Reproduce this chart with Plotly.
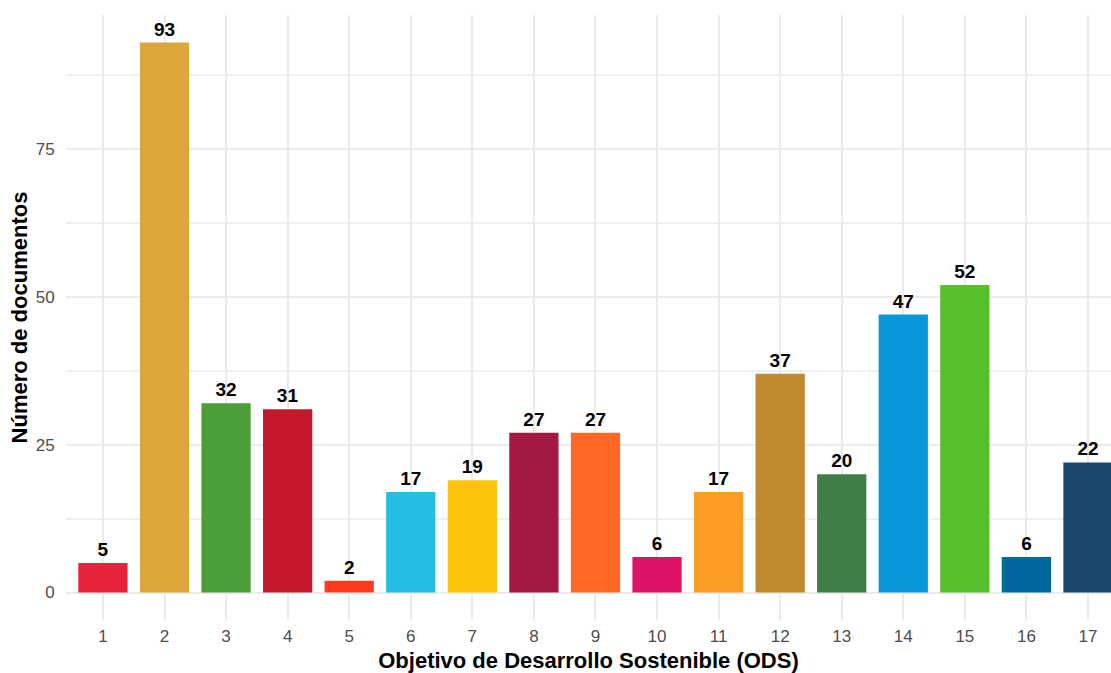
import plotly.graph_objects as go

ods = list(range(1, 18))
documentos = [5, 93, 32, 31, 2, 17, 19, 27, 27, 6, 17, 37, 20, 47, 52, 6, 22]
colores = ["#E5243B", "#DDA63A", "#4C9F38", "#C5192D", "#FF3A21", "#26BDE2",
           "#FCC30B", "#A21942", "#FD6925", "#DD1367", "#FD9D24", "#BF8B2E",
           "#3F7E44", "#0A97D9", "#56C02B", "#00689D", "#19486A"]
y_ticks = [0, 25, 50, 75]
y_minor = [12.5, 37.5, 62.5, 87.5]

font_family = "Liberation Sans, Arial, sans-serif"

fig = go.Figure(go.Bar(
    x=ods, y=documentos, marker=dict(color=colores, line=dict(width=0)),
    width=0.8,
    text=[str(v) for v in documentos], textposition="outside",
    textfont=dict(family=font_family, size=19, color="black", weight="bold"),
    cliponaxis=False, constraintext="none",
))

fig.update_layout(
    width=1111, height=673,
    margin=dict(l=66, r=0, t=15, b=53),
    plot_bgcolor="white", paper_bgcolor="white",
    showlegend=False,
    bargap=0.2,
    font=dict(family=font_family),
)
fig.update_xaxes(
    range=[0.4, 17.374], tickmode="array", tickvals=ods,
    ticktext=[str(v) for v in ods],
    tickfont=dict(size=17, color="#4D4D4D"),
    showgrid=True, gridcolor="#EBEBEB", gridwidth=2,
    zeroline=False, showline=False,
    ticks="outside", ticklen=1, tickcolor="rgba(0,0,0,0)",
    title=dict(text="Objetivo de Desarrollo Sostenible (ODS)",
               font=dict(size=22, color="black", weight="bold"), standoff=9),
)
fig.update_yaxes(
    range=[-4.65, 97.65], tickmode="array", tickvals=y_ticks,
    tickfont=dict(size=17, color="#4D4D4D"),
    showgrid=True, gridcolor="#EBEBEB", gridwidth=2,
    minor=dict(tickmode="array", tickvals=y_minor,
               showgrid=True, gridcolor="#EFEFEF", gridwidth=1.6),
    zeroline=False, showline=False,
    ticks="outside", ticklen=7, tickcolor="rgba(0,0,0,0)",
    title=dict(text="Número de documentos",
               font=dict(size=22, color="black", weight="bold"), standoff=1),
)

fig.write_html(
    "out.html",
    config={"displayModeBar": False},
    post_script="document.body.style.margin='0';document.body.style.overflow='hidden';",
)
